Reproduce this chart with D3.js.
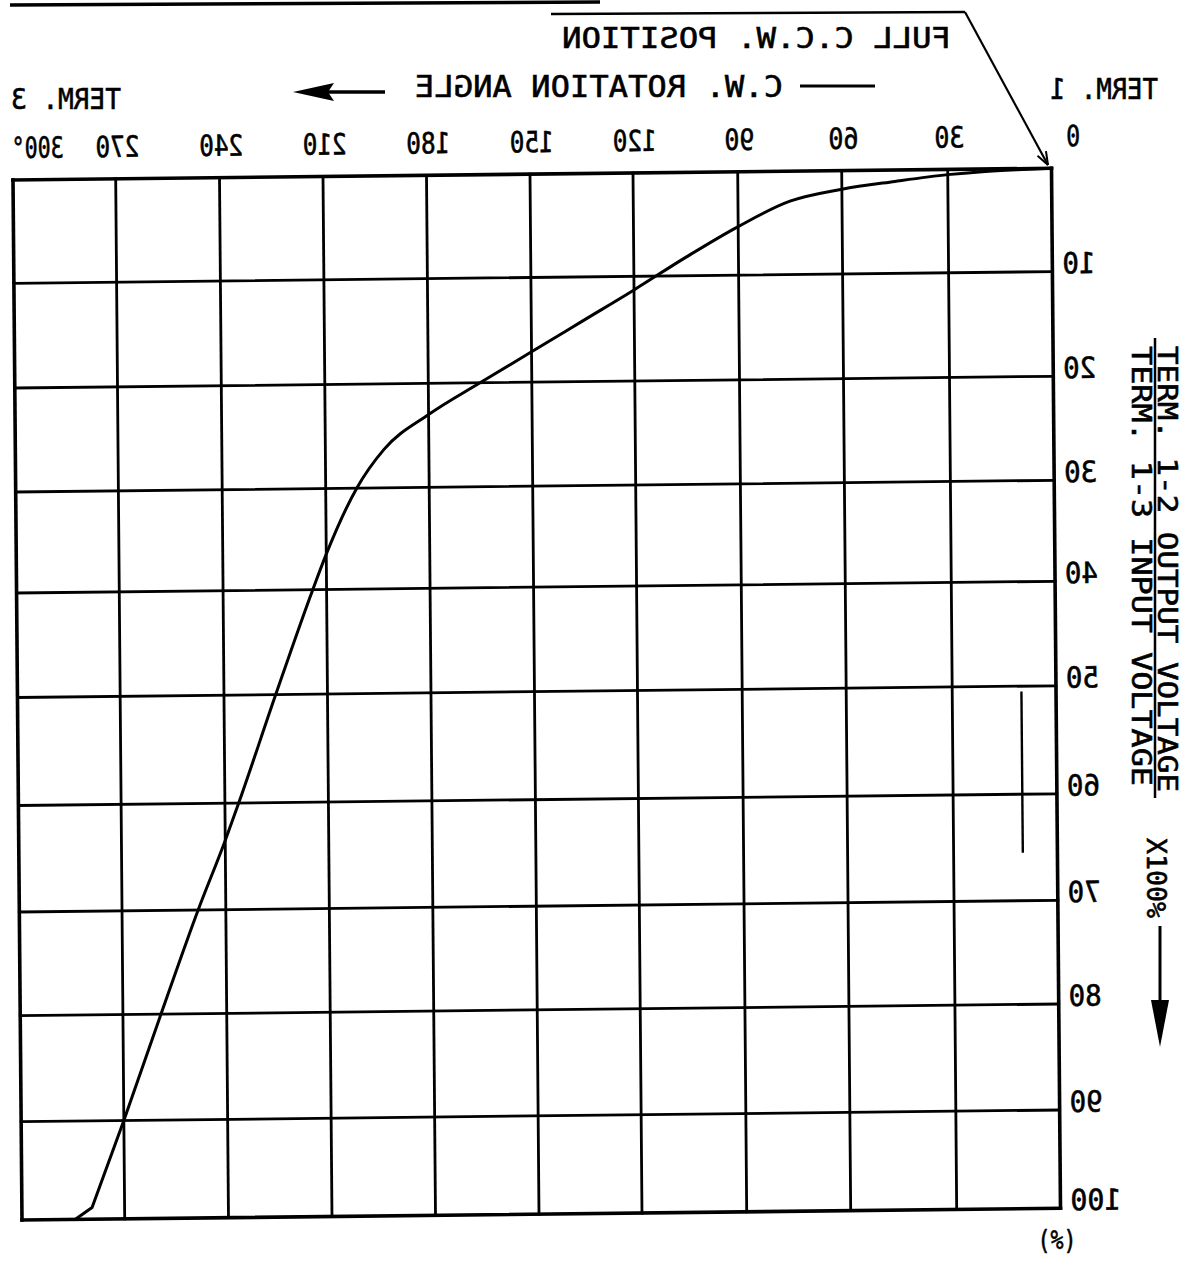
<!DOCTYPE html>
<html><head><meta charset="utf-8">
<script src="https://cdn.jsdelivr.net/npm/d3@7"></script>
<style>
html,body{margin:0;padding:0;background:#fff;}
svg{display:block;background:#fff;}
text{font-family:"DejaVu Sans Mono","Liberation Mono",monospace;fill:#000;stroke:#000;stroke-width:0.6;}
</style></head><body>
<svg id="chart" width="1186" height="1262"></svg>
<script>
// ---------- data ----------
const angleTicks = [0, 30, 60, 90, 120, 150, 180, 210, 240, 270, 300];
const angleTickLabels = ["0", "30", "60", "90", "120", "150", "180", "210", "240", "270", "300°"];
const ratioTicks = [0, 10, 20, 30, 40, 50, 60, 70, 80, 90, 100];
const ratioTickLabels = ["", "10", "20", "30", "40", "50", "60", "70", "80", "90", "100"];
// C.W. rotation angle (deg) vs output/input voltage ratio (%) - smooth part
const curveAngle = [0, 10, 20, 30, 45, 60, 75, 90, 105, 120, 135, 150, 165, 180, 193, 201, 210, 214, 225, 236, 240, 248, 259, 270];
const curveRatio = [0, 0.1, 0.25, 0.5, 1.1, 1.8, 2.9, 5.3, 8.2, 11.3, 14.2, 17.1, 20, 23, 26.3, 30, 36.5, 40, 50, 60, 63.5, 70, 80, 90];
// straight tail down to the end stop
const tailAngle = [270, 279.5, 284.5];
const tailRatio = [90, 98.8, 100];
// scan mark (vertical stroke near 10 deg)
const markAngle = [10, 10];
const markRatio = [50.5, 65.5];

// ---------- layout ----------
const svg = d3.select("#chart");
const W = 1038.5, H = 1040;
// scanned grid spacing is slightly irregular: piecewise scales
const x = d3.scaleLinear()
  .domain([300, 270, 240, 210, 180, 150, 120, 90, 60, 30, 0])
  .range([0, 102.7, 206.5, 310, 413.5, 517, 620, 724.7, 828.7, 934.7, W]);
const y = d3.scaleLinear()
  .domain(ratioTicks)
  .range([0, 103.3, 208, 312, 413, 517.5, 625.5, 732, 835.7, 941.7, H]);

// the scanned sheet is slightly skewed
const g = svg.append("g").attr("transform", "matrix(1,-0.01127,0.00865,1,13,180)");

function mirrorText(parent, str, cx, base, width, size) {
  parent.append("g")
    .attr("transform", `translate(${cx},${base}) scale(-1,1)`)
    .append("text")
    .attr("x", 0).attr("y", 0)
    .attr("text-anchor", "middle")
    .attr("font-size", size)
    .attr("textLength", width)
    .attr("lengthAdjust", "spacingAndGlyphs")
    .text(str);
}

// grid
g.selectAll("line.v").data(angleTicks).join("line")
  .attr("x1", d => x(d)).attr("x2", d => x(d))
  .attr("y1", 0).attr("y2", H)
  .attr("stroke", "#000")
  .attr("stroke-width", d => (d === 0 || d === 300) ? 3.6 : 2.8)
  .attr("stroke-linecap", "square");
g.selectAll("line.h").data(ratioTicks).join("line")
  .attr("x1", 0).attr("x2", W)
  .attr("y1", d => y(d)).attr("y2", d => y(d))
  .attr("stroke", "#000")
  .attr("stroke-width", d => (d === 0 || d === 100) ? 3.6 : 2.8)
  .attr("stroke-linecap", "square");

// top tick labels (angle)
angleTicks.forEach((t, i) => {
  const lab = angleTickLabels[i];
  let dx = 2;
  if (t === 0) dx = 22;
  if (t === 300) dx = 25;
  const w = lab.length >= 4 ? 52 : lab.length === 3 ? 44 : lab.length === 2 ? 30 : 14;
  mirrorText(g, lab, x(t) + dx, -22, w, 29);
});

// right tick labels (ratio)
ratioTicks.forEach((t, i) => {
  const lab = ratioTickLabels[i];
  if (!lab) return;
  const w = lab.length === 3 ? 51 : 33;
  mirrorText(g, lab, W + 10 + w / 2, y(t) + 2, w, 29);
});

// curve
const pts = curveAngle.map((a, i) => [a, curveRatio[i]]).reverse();
g.append("path")
  .datum(pts)
  .attr("fill", "none")
  .attr("stroke", "#000")
  .attr("stroke-width", 3)
  .attr("stroke-linejoin", "round")
  .attr("stroke-linecap", "round")
  .attr("d", d3.line().x(d => x(d[0])).y(d => y(d[1])).curve(d3.curveMonotoneX));
g.append("path")
  .datum(tailAngle.map((a, i) => [a, tailRatio[i]]))
  .attr("fill", "none")
  .attr("stroke", "#000")
  .attr("stroke-width", 3)
  .attr("stroke-linejoin", "round")
  .attr("stroke-linecap", "round")
  .attr("d", d3.line().x(d => x(d[0])).y(d => y(d[1])));

// scan mark
g.append("line")
  .attr("x1", x(markAngle[0])).attr("x2", x(markAngle[1]))
  .attr("y1", y(markRatio[0])).attr("y2", y(markRatio[1]))
  .attr("stroke", "#000").attr("stroke-width", 2.4);

// ---------- header ----------
svg.append("line").attr("x1", 10).attr("y1", 5).attr("x2", 600).attr("y2", 2)
  .attr("stroke", "#000").attr("stroke-width", 3.5);
svg.append("line").attr("x1", 551).attr("y1", 14).attr("x2", 965).attr("y2", 12)
  .attr("stroke", "#000").attr("stroke-width", 2.5);
svg.append("line").attr("x1", 965).attr("y1", 12).attr("x2", 1048).attr("y2", 165)
  .attr("stroke", "#000").attr("stroke-width", 2.2);
// small arrowhead at the corner
(function () {
  const tx = 1048, ty = 165, ang = Math.atan2(12 - 165, 965 - 1048);
  [0.35, -0.35].forEach(da => {
    svg.append("line").attr("x1", tx).attr("y1", ty)
      .attr("x2", tx + 14 * Math.cos(ang + da)).attr("y2", ty + 14 * Math.sin(ang + da))
      .attr("stroke", "#000").attr("stroke-width", 2);
  });
})();

mirrorText(svg, "FULL C.C.W. POSITION", 756.5, 48, 389, 29);
mirrorText(svg, "C.W. ROTATION ANGLE", 599, 97, 368, 31);
mirrorText(svg, "TERM. 3", 66, 109, 110, 29);
mirrorText(svg, "TERM. 1", 1104, 99, 108, 29);

svg.append("line").attr("x1", 800).attr("y1", 86).attr("x2", 875).attr("y2", 86)
  .attr("stroke", "#000").attr("stroke-width", 3);
svg.append("line").attr("x1", 326).attr("y1", 92).attr("x2", 385).attr("y2", 92)
  .attr("stroke", "#000").attr("stroke-width", 3.5);
svg.append("path").attr("d", "M293,92 L334,83 L328,92 L334,101 Z").attr("fill", "#000");

// ---------- right title ----------
function vText(str, xb, y0, len, size) {
  svg.append("text")
    .attr("transform", `translate(${xb},${y0}) rotate(90)`)
    .attr("font-size", size)
    .attr("textLength", len)
    .attr("lengthAdjust", "spacingAndGlyphs")
    .text(str);
}
vText("TERM. 1-2 OUTPUT VOLTAGE", 1158, 346, 446, 27);
vText("TERM. 1-3 INPUT VOLTAGE", 1132, 346, 440, 27);
svg.append("line").attr("x1", 1155).attr("y1", 338).attr("x2", 1155).attr("y2", 798)
  .attr("stroke", "#000").attr("stroke-width", 2.5);
vText("X100%", 1147, 838, 80, 27);
svg.append("line").attr("x1", 1160).attr("y1", 926).attr("x2", 1160).attr("y2", 1005)
  .attr("stroke", "#000").attr("stroke-width", 3);
svg.append("path").attr("d", "M1151,1000 L1169,1000 L1160,1047 Z").attr("fill", "#000");

svg.append("text").attr("x", 1057).attr("y", 1249)
  .attr("text-anchor", "middle").attr("font-size", 27)
  .attr("textLength", 39).attr("lengthAdjust", "spacingAndGlyphs")
  .text("(%)");
</script>
</body></html>
